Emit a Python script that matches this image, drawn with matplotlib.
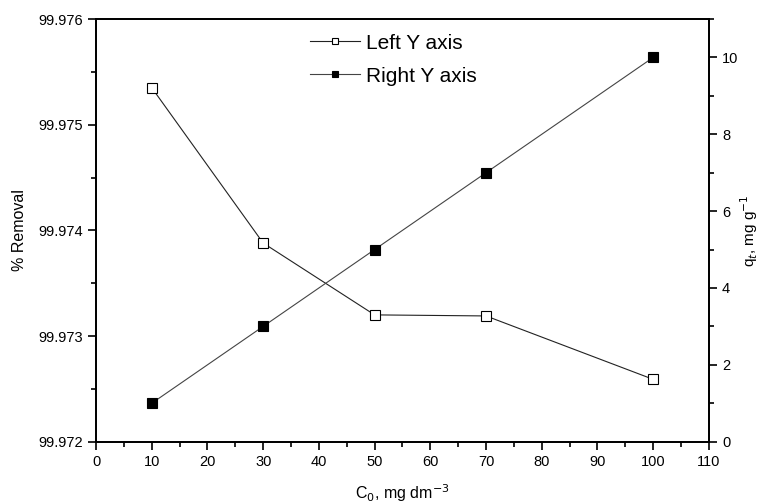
import matplotlib
matplotlib.use("Agg")
import matplotlib.pyplot as plt
from matplotlib.ticker import MultipleLocator, FormatStrFormatter

plt.rcParams['font.family'] = ['Liberation Sans', 'DejaVu Sans']

c0 = [10, 30, 50, 70, 100]
removal = [99.97535, 99.97388, 99.97320, 99.97319, 99.97259]
qt = [1, 3, 5, 7, 10]

fig = plt.figure(figsize=(7.59, 5.03), dpi=100)
ax = fig.add_axes([0.1265, 0.1219, 0.8075, 0.8403])
ax2 = ax.twinx()

l1, = ax.plot(c0, removal, color='#222222', lw=0.8, marker='s', ms=6.5,
              mfc='white', mec='black', mew=0.8, label='Left Y axis')
l2, = ax2.plot(c0, qt, color='#444444', lw=0.8, marker='s', ms=6.5,
               mfc='black', mec='black', mew=0.8, label='Right Y axis')

ax.set_xlim(0, 110)
ax.set_ylim(99.972, 99.976)
ax2.set_ylim(0, 11)

ax.xaxis.set_major_locator(MultipleLocator(10))
ax.xaxis.set_minor_locator(MultipleLocator(5))
ax.yaxis.set_major_locator(MultipleLocator(0.001))
ax.yaxis.set_minor_locator(MultipleLocator(0.0005))
ax.yaxis.set_major_formatter(FormatStrFormatter('%.3f'))
ax2.yaxis.set_major_locator(MultipleLocator(2))
ax2.yaxis.set_minor_locator(MultipleLocator(1))

for a in (ax, ax2):
    a.tick_params(which='major', direction='out', length=6, width=1.2, labelsize=10.5)
    a.tick_params(which='minor', direction='out', length=3.5, width=1.2)
    for s in a.spines.values():
        s.set_linewidth(1.3)
ax.tick_params(axis='x', which='both', top=False)

ax.set_xlabel('C$_0$, mg dm$^{-3}$', fontsize=11.5, labelpad=10)
ax.set_ylabel('% Removal', fontsize=11.5, labelpad=8)
ax2.set_ylabel('q$_t$, mg g$^{-1}$', fontsize=11, labelpad=0)

ax.legend([l1, l2], ['Left Y axis', 'Right Y axis'], loc='upper center',
          bbox_to_anchor=(0.485, 1.01), frameon=False, fontsize=15,
          handlelength=2.4, handletextpad=0.3, labelspacing=0.68,
          markerscale=0.75)

fig.savefig('out.png', dpi=100)
